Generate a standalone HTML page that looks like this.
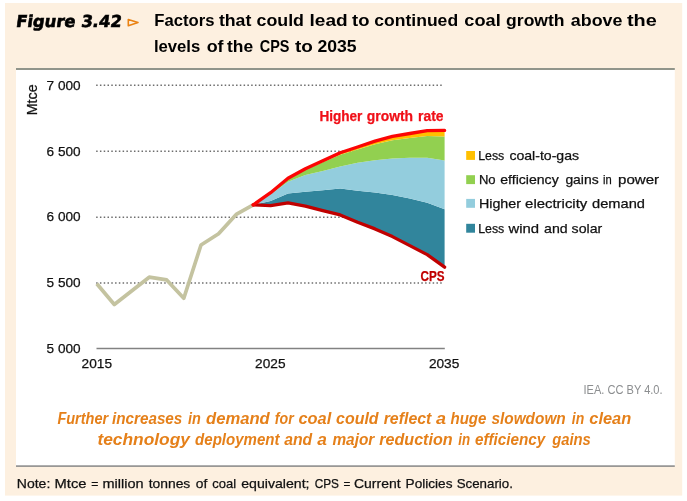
<!DOCTYPE html>
<html lang="en"><head><meta charset="utf-8"><title>Figure 3.42</title>
<style>
html,body{margin:0;padding:0;background:#fff;}
body{width:687px;height:501px;overflow:hidden;}
svg{display:block;}
text{font-family:"Liberation Sans",sans-serif;}
.c text{font-size:13.4px;fill:#111;stroke:#111;stroke-width:0.25px;}
</style></head><body>
<svg width="687" height="501" viewBox="0 0 687 501">
<rect x="0" y="0" width="687" height="501" fill="#ffffff"/>
<rect x="5" y="3" width="677.2" height="492.6" fill="#fdf0e0"/>
<rect x="16" y="69.5" width="658.8" height="396.5" fill="#ffffff"/>
<rect x="16" y="68" width="658.8" height="2" fill="#91958b"/>
<rect x="16" y="465.3" width="658.8" height="1.6" fill="#8d8d8d"/>
<text transform="translate(15.5,26.8) skewX(-8)" textLength="105.6" lengthAdjust="spacingAndGlyphs" style="font-family:'DejaVu Sans',sans-serif;font-weight:bold;font-size:16.5px;fill:#000;stroke:#000;stroke-width:0.6px">Figure 3.42</text>
<polygon points="128.3,19.5 138,22.6 128.3,25.7" fill="none" stroke="#ea8212" stroke-width="1.6" stroke-linejoin="round"/>
<g><text x="154.3" y="26.4" textLength="60.2" lengthAdjust="spacingAndGlyphs" style="font-weight:bold;font-size:16.5px;fill:#000">Factors</text><text x="218.9" y="26.4" textLength="32.5" lengthAdjust="spacingAndGlyphs" style="font-weight:bold;font-size:16.5px;fill:#000">that</text><text x="256.5" y="26.4" textLength="47.5" lengthAdjust="spacingAndGlyphs" style="font-weight:bold;font-size:16.5px;fill:#000">could</text><text x="309.5" y="26.4" textLength="38.2" lengthAdjust="spacingAndGlyphs" style="font-weight:bold;font-size:16.5px;fill:#000">lead</text><text x="352.1" y="26.4" textLength="17.4" lengthAdjust="spacingAndGlyphs" style="font-weight:bold;font-size:16.5px;fill:#000">to</text><text x="374.3" y="26.4" textLength="83.8" lengthAdjust="spacingAndGlyphs" style="font-weight:bold;font-size:16.5px;fill:#000">continued</text><text x="464.3" y="26.4" textLength="36.4" lengthAdjust="spacingAndGlyphs" style="font-weight:bold;font-size:16.5px;fill:#000">coal</text><text x="506.1" y="26.4" textLength="58.5" lengthAdjust="spacingAndGlyphs" style="font-weight:bold;font-size:16.5px;fill:#000">growth</text><text x="570.8" y="26.4" textLength="51.6" lengthAdjust="spacingAndGlyphs" style="font-weight:bold;font-size:16.5px;fill:#000">above</text><text x="626.9" y="26.4" textLength="29.8" lengthAdjust="spacingAndGlyphs" style="font-weight:bold;font-size:16.5px;fill:#000">the</text></g>
<g><text x="153.9" y="52.2" textLength="46.4" lengthAdjust="spacingAndGlyphs" style="font-weight:bold;font-size:16.5px;fill:#000">levels</text><text x="206.7" y="52.2" textLength="16.9" lengthAdjust="spacingAndGlyphs" style="font-weight:bold;font-size:16.5px;fill:#000">of</text><text x="227.0" y="52.2" textLength="26.1" lengthAdjust="spacingAndGlyphs" style="font-weight:bold;font-size:16.5px;fill:#000">the</text><text x="259.8" y="52.2" textLength="29.7" lengthAdjust="spacingAndGlyphs" style="font-weight:bold;font-size:16.5px;fill:#000">CPS</text><text x="295.0" y="52.2" textLength="17.9" lengthAdjust="spacingAndGlyphs" style="font-weight:bold;font-size:16.5px;fill:#000">to</text><text x="317.4" y="52.2" textLength="39.2" lengthAdjust="spacingAndGlyphs" style="font-weight:bold;font-size:16.5px;fill:#000">2035</text></g>
<g class="c">
<line x1="96.15" x2="442" y1="85.3" y2="85.3" stroke="#6e6e6e" stroke-width="1.6" stroke-dasharray="1.5 2.281"/><line x1="96.15" x2="442" y1="151.3" y2="151.3" stroke="#6e6e6e" stroke-width="1.6" stroke-dasharray="1.5 2.281"/><line x1="96.15" x2="442" y1="217.2" y2="217.2" stroke="#6e6e6e" stroke-width="1.6" stroke-dasharray="1.5 2.281"/><line x1="96.15" x2="442" y1="283.0" y2="283.0" stroke="#6e6e6e" stroke-width="1.6" stroke-dasharray="1.5 2.281"/>
<line x1="96.5" x2="444.8" y1="348.5" y2="348.5" stroke="#828282" stroke-width="1.3"/>
<text x="46.6" y="89.5" textLength="34" lengthAdjust="spacingAndGlyphs">7 000</text><text x="46.6" y="155.5" textLength="34" lengthAdjust="spacingAndGlyphs">6 500</text><text x="46.6" y="221.4" textLength="34" lengthAdjust="spacingAndGlyphs">6 000</text><text x="46.6" y="287.3" textLength="34" lengthAdjust="spacingAndGlyphs">5 500</text><text x="46.6" y="353.0" textLength="34" lengthAdjust="spacingAndGlyphs">5 000</text>
<text x="96.8" y="368.3" textLength="30.4" lengthAdjust="spacingAndGlyphs" text-anchor="middle">2015</text><text x="270.3" y="368.3" textLength="30.4" lengthAdjust="spacingAndGlyphs" text-anchor="middle">2025</text><text x="444.1" y="368.3" textLength="30.4" lengthAdjust="spacingAndGlyphs" text-anchor="middle">2035</text>
<text transform="translate(36.7,115.3) rotate(-90)" textLength="31" lengthAdjust="spacingAndGlyphs" style="font-size:14.2px">Mtce</text>
<polyline points="96.8,283.8 114.3,304.5 131.6,291 149.2,277.2 166.7,279.9 183.8,298.2 201,245 218.6,233.8 236.2,214.4 253.2,204.9" fill="none" stroke="#c4c3a0" stroke-width="3.7" stroke-linejoin="round" stroke-linecap="butt"/>
<polygon points="253.2,204.9 270.6,201.1 288.0,193.4 305.4,191.8 322.8,190.3 340.2,188.5 357.6,190.8 375.0,192.6 392.4,195.0 409.8,198.6 427.2,202.7 444.6,209.3 444.6,267.2 427.2,254.6 409.8,245.6 392.4,236.6 375.0,228.9 357.6,222.2 340.2,214.9 322.8,210.6 305.4,206.1 288.0,202.9 270.6,205.6 253.2,204.9" fill="#31859c"/>
<polygon points="253.2,204.9 270.6,194.2 288.0,181.7 305.4,175.0 322.8,170.9 340.2,166.5 357.6,162.7 375.0,160.3 392.4,158.5 409.8,157.8 427.2,157.7 444.6,160.4 444.6,209.3 427.2,202.7 409.8,198.6 392.4,195.0 375.0,192.6 357.6,190.8 340.2,188.5 322.8,190.3 305.4,191.8 288.0,193.4 270.6,201.1 253.2,204.9" fill="#93cddd"/>
<polygon points="253.2,204.9 270.6,193.0 288.0,178.9 305.4,169.8 322.8,162.2 340.2,154.8 357.6,149.6 375.0,144.2 392.4,140.2 409.8,138.0 427.2,136.1 444.6,136.4 444.6,160.4 427.2,157.7 409.8,157.8 392.4,158.5 375.0,160.3 357.6,162.7 340.2,166.5 322.8,170.9 305.4,175.0 288.0,181.7 270.6,194.2 253.2,204.9" fill="#92d050"/>
<polygon points="253.2,204.9 270.6,192.7 288.0,178.3 305.4,168.8 322.8,160.7 340.2,152.7 357.6,147.0 375.0,141.1 392.4,136.4 409.8,133.5 427.2,130.7 444.6,130.4 444.6,136.4 427.2,136.1 409.8,138.0 392.4,140.2 375.0,144.2 357.6,149.6 340.2,154.8 322.8,162.2 305.4,169.8 288.0,178.9 270.6,193.0 253.2,204.9" fill="#ffc000"/>
<polyline points="253.2,204.9 270.6,205.6 288.0,202.9 305.4,206.1 322.8,210.6 340.2,214.9 357.6,222.2 375.0,228.9 392.4,236.6 409.8,245.6 427.2,254.6 444.6,267.2" fill="none" stroke="#c00000" stroke-width="3.3" stroke-linejoin="round" stroke-linecap="round"/>
<polyline points="253.2,204.9 270.6,192.7 288.0,178.3 305.4,168.8 322.8,160.7 340.2,152.7 357.6,147.0 375.0,141.1 392.4,136.4 409.8,133.5 427.2,130.7 444.6,130.4" fill="none" stroke="#fb0505" stroke-width="3.3" stroke-linejoin="round" stroke-linecap="round"/>
<g><text x="319.4" y="121.3" textLength="43.0" lengthAdjust="spacingAndGlyphs" style="font-weight:bold;font-size:13.9px;fill:#f01018;stroke:#f01018">Higher</text><text x="366.8" y="121.3" textLength="46.2" lengthAdjust="spacingAndGlyphs" style="font-weight:bold;font-size:13.9px;fill:#f01018;stroke:#f01018">growth</text><text x="418.1" y="121.3" textLength="25.5" lengthAdjust="spacingAndGlyphs" style="font-weight:bold;font-size:13.9px;fill:#f01018;stroke:#f01018">rate</text></g>
<text x="420.5" y="280.6" textLength="24" lengthAdjust="spacingAndGlyphs" style="font-weight:bold;font-size:14px;fill:#c00000;stroke:#c00000">CPS</text>
<rect x="466.2" y="151.0" width="8.8" height="8.9" fill="#ffc000"/><g><text x="478.2" y="159.7" textLength="26.1" lengthAdjust="spacingAndGlyphs">Less</text><text x="509.4" y="159.7" textLength="69.7" lengthAdjust="spacingAndGlyphs">coal-to-gas</text></g><rect x="466.2" y="175.2" width="8.8" height="8.9" fill="#92d050"/><g><text x="478.9" y="183.9" textLength="16.7" lengthAdjust="spacingAndGlyphs">No</text><text x="500.3" y="183.9" textLength="58.4" lengthAdjust="spacingAndGlyphs">efficiency</text><text x="565.4" y="183.9" textLength="33.2" lengthAdjust="spacingAndGlyphs">gains</text><text x="603.1" y="183.9" textLength="8.7" lengthAdjust="spacingAndGlyphs">in</text><text x="618.0" y="183.9" textLength="41.1" lengthAdjust="spacingAndGlyphs">power</text></g><rect x="466.2" y="198.9" width="8.8" height="8.9" fill="#93cddd"/><g><text x="478.9" y="207.6" textLength="42.1" lengthAdjust="spacingAndGlyphs">Higher</text><text x="525.1" y="207.6" textLength="62.2" lengthAdjust="spacingAndGlyphs">electricity</text><text x="592.1" y="207.6" textLength="52.9" lengthAdjust="spacingAndGlyphs">demand</text></g><rect x="466.2" y="223.8" width="8.8" height="8.9" fill="#31859c"/><g><text x="478.2" y="232.5" textLength="26.1" lengthAdjust="spacingAndGlyphs">Less</text><text x="508.4" y="232.5" textLength="30.6" lengthAdjust="spacingAndGlyphs">wind</text><text x="544.1" y="232.5" textLength="23.6" lengthAdjust="spacingAndGlyphs">and</text><text x="571.6" y="232.5" textLength="30.6" lengthAdjust="spacingAndGlyphs">solar</text></g>
<text x="583.5" y="393.7" textLength="79.1" lengthAdjust="spacingAndGlyphs" style="font-size:12.3px;fill:#8c8e90;stroke:none">IEA. CC BY 4.0.</text>
</g>
<g><text x="57.4" y="423.6" textLength="50.7" lengthAdjust="spacingAndGlyphs" style="font-weight:bold;font-style:italic;font-size:16px;fill:#e5801a">Further</text><text x="112.0" y="423.6" textLength="70.3" lengthAdjust="spacingAndGlyphs" style="font-weight:bold;font-style:italic;font-size:16px;fill:#e5801a">increases</text><text x="188.1" y="423.6" textLength="12.8" lengthAdjust="spacingAndGlyphs" style="font-weight:bold;font-style:italic;font-size:16px;fill:#e5801a">in</text><text x="206.0" y="423.6" textLength="63.7" lengthAdjust="spacingAndGlyphs" style="font-weight:bold;font-style:italic;font-size:16px;fill:#e5801a">demand</text><text x="274.8" y="423.6" textLength="18.9" lengthAdjust="spacingAndGlyphs" style="font-weight:bold;font-style:italic;font-size:16px;fill:#e5801a">for</text><text x="298.4" y="423.6" textLength="32.8" lengthAdjust="spacingAndGlyphs" style="font-weight:bold;font-style:italic;font-size:16px;fill:#e5801a">coal</text><text x="336.1" y="423.6" textLength="42.5" lengthAdjust="spacingAndGlyphs" style="font-weight:bold;font-style:italic;font-size:16px;fill:#e5801a">could</text><text x="383.7" y="423.6" textLength="47.7" lengthAdjust="spacingAndGlyphs" style="font-weight:bold;font-style:italic;font-size:16px;fill:#e5801a">reflect</text><text x="436.1" y="423.6" textLength="10.0" lengthAdjust="spacingAndGlyphs" style="font-weight:bold;font-style:italic;font-size:16px;fill:#e5801a">a</text><text x="450.5" y="423.6" textLength="35.9" lengthAdjust="spacingAndGlyphs" style="font-weight:bold;font-style:italic;font-size:16px;fill:#e5801a">huge</text><text x="491.5" y="423.6" textLength="74.2" lengthAdjust="spacingAndGlyphs" style="font-weight:bold;font-style:italic;font-size:16px;fill:#e5801a">slowdown</text><text x="571.8" y="423.6" textLength="12.4" lengthAdjust="spacingAndGlyphs" style="font-weight:bold;font-style:italic;font-size:16px;fill:#e5801a">in</text><text x="589.3" y="423.6" textLength="41.9" lengthAdjust="spacingAndGlyphs" style="font-weight:bold;font-style:italic;font-size:16px;fill:#e5801a">clean</text></g>
<g><text x="97.4" y="445.4" textLength="92.6" lengthAdjust="spacingAndGlyphs" style="font-weight:bold;font-style:italic;font-size:16px;fill:#e5801a">technology</text><text x="195.1" y="445.4" textLength="84.4" lengthAdjust="spacingAndGlyphs" style="font-weight:bold;font-style:italic;font-size:16px;fill:#e5801a">deployment</text><text x="284.2" y="445.4" textLength="28.0" lengthAdjust="spacingAndGlyphs" style="font-weight:bold;font-style:italic;font-size:16px;fill:#e5801a">and</text><text x="317.3" y="445.4" textLength="9.6" lengthAdjust="spacingAndGlyphs" style="font-weight:bold;font-style:italic;font-size:16px;fill:#e5801a">a</text><text x="332.4" y="445.4" textLength="41.9" lengthAdjust="spacingAndGlyphs" style="font-weight:bold;font-style:italic;font-size:16px;fill:#e5801a">major</text><text x="379.3" y="445.4" textLength="73.3" lengthAdjust="spacingAndGlyphs" style="font-weight:bold;font-style:italic;font-size:16px;fill:#e5801a">reduction</text><text x="458.3" y="445.4" textLength="11.8" lengthAdjust="spacingAndGlyphs" style="font-weight:bold;font-style:italic;font-size:16px;fill:#e5801a">in</text><text x="475.1" y="445.4" textLength="70.1" lengthAdjust="spacingAndGlyphs" style="font-weight:bold;font-style:italic;font-size:16px;fill:#e5801a">efficiency</text><text x="552.2" y="445.4" textLength="38.6" lengthAdjust="spacingAndGlyphs" style="font-weight:bold;font-style:italic;font-size:16px;fill:#e5801a">gains</text></g>
<g><text x="16.8" y="487.6" textLength="33.5" lengthAdjust="spacingAndGlyphs" style="font-size:13.3px;fill:#111;stroke:#111;stroke-width:0.25px">Note:</text><text x="54.6" y="487.6" textLength="31.9" lengthAdjust="spacingAndGlyphs" style="font-size:13.3px;fill:#111;stroke:#111;stroke-width:0.25px">Mtce</text><text x="91.2" y="487.6" textLength="7.1" lengthAdjust="spacingAndGlyphs" style="font-size:13.3px;fill:#111;stroke:#111;stroke-width:0.25px">=</text><text x="102.5" y="487.6" textLength="41.1" lengthAdjust="spacingAndGlyphs" style="font-size:13.3px;fill:#111;stroke:#111;stroke-width:0.25px">million</text><text x="148.7" y="487.6" textLength="41.6" lengthAdjust="spacingAndGlyphs" style="font-size:13.3px;fill:#111;stroke:#111;stroke-width:0.25px">tonnes</text><text x="195.8" y="487.6" textLength="11.5" lengthAdjust="spacingAndGlyphs" style="font-size:13.3px;fill:#111;stroke:#111;stroke-width:0.25px">of</text><text x="212.3" y="487.6" textLength="23.8" lengthAdjust="spacingAndGlyphs" style="font-size:13.3px;fill:#111;stroke:#111;stroke-width:0.25px">coal</text><text x="241.2" y="487.6" textLength="68.3" lengthAdjust="spacingAndGlyphs" style="font-size:13.3px;fill:#111;stroke:#111;stroke-width:0.25px">equivalent;</text><text x="314.7" y="487.6" textLength="24.3" lengthAdjust="spacingAndGlyphs" style="font-size:13.3px;fill:#111;stroke:#111;stroke-width:0.25px">CPS</text><text x="343.5" y="487.6" textLength="6.8" lengthAdjust="spacingAndGlyphs" style="font-size:13.3px;fill:#111;stroke:#111;stroke-width:0.25px">=</text><text x="354.0" y="487.6" textLength="46.6" lengthAdjust="spacingAndGlyphs" style="font-size:13.3px;fill:#111;stroke:#111;stroke-width:0.25px">Current</text><text x="405.6" y="487.6" textLength="46.9" lengthAdjust="spacingAndGlyphs" style="font-size:13.3px;fill:#111;stroke:#111;stroke-width:0.25px">Policies</text><text x="456.7" y="487.6" textLength="56.2" lengthAdjust="spacingAndGlyphs" style="font-size:13.3px;fill:#111;stroke:#111;stroke-width:0.25px">Scenario.</text></g>
</svg>
</body></html>
